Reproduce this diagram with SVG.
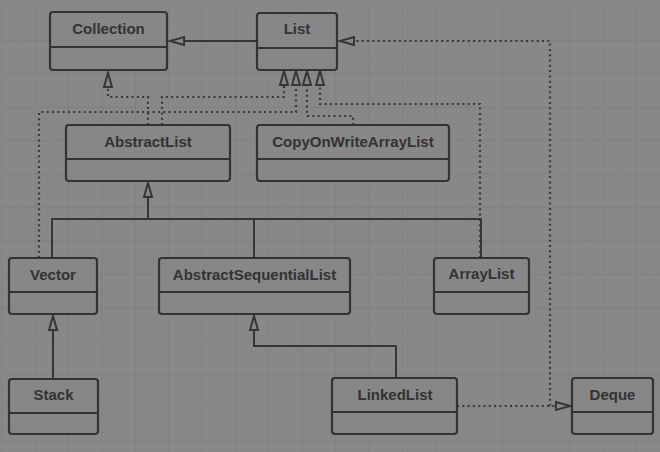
<svg xmlns="http://www.w3.org/2000/svg" width="660" height="452" viewBox="0 0 660 452">
  <defs>
    <style>
      .box { fill: #878787; stroke: #333333; stroke-width: 2.2; }
      .div { stroke: #333333; stroke-width: 2.2; fill: none; }
      .lbl { font-family: "Liberation Sans", Arial, sans-serif; font-size: 15px; font-weight: bold; fill: #333333; text-anchor: middle; }
      .solid { fill: none; stroke: #363636; stroke-width: 2; }
      .dot { fill: none; stroke: #383838; stroke-width: 2.2; stroke-dasharray: 2 3.3; }
    </style>
    <pattern id="gridMinor" width="16.7" height="16.7" patternUnits="userSpaceOnUse" x="1.2" y="6.6">
      <path d="M0,0 V16.7 M0,0 H16.7" stroke="#828282" stroke-width="1" fill="none"/>
    </pattern>
    <pattern id="gridMajor" width="33.4" height="33.4" patternUnits="userSpaceOnUse" x="1.2" y="6.6">
      <path d="M0,0 V33.4 M0,0 H33.4" stroke="#7d7d7d" stroke-width="1.2" fill="none"/>
    </pattern>
    <marker id="tri" viewBox="0 0 15 10" refX="15" refY="5" markerWidth="15" markerHeight="10" markerUnits="userSpaceOnUse" orient="auto" overflow="visible">
      <path d="M1,1 L15,5 L1,9 Z" fill="#878787" stroke="#363636" stroke-width="2" stroke-dasharray="none" stroke-linejoin="miter"/>
    </marker>
  </defs>

  <rect x="0" y="0" width="660" height="452" fill="#888888"/>
  <rect x="1" y="7" width="659" height="445" fill="url(#gridMinor)"/>
  <rect x="1" y="7" width="659" height="445" fill="url(#gridMajor)"/>

  <g id="connectors">
    <path class="solid" d="M257,41 H170" marker-end="url(#tri)"/>
    <path class="dot" d="M457,406 H570" marker-end="url(#tri)"/>
    <path class="dot" d="M550,406 V41 H340" marker-end="url(#tri)"/>
    <path class="dot" d="M148,125 V97 H108 V73" marker-end="url(#tri)"/>
    <path class="dot" d="M162,125 V97 H284 V71" marker-end="url(#tri)"/>
    <path class="dot" d="M39,258 V112 H296 V71" marker-end="url(#tri)"/>
    <path class="dot" d="M353,125 V116 H307 V71" marker-end="url(#tri)"/>
    <path class="dot" d="M480,258 V104 H320 V71" marker-end="url(#tri)"/>
    <path class="solid" d="M52,258 V219 H481 V258 M254,258 V219"/>
    <path class="solid" d="M148,219 V183" marker-end="url(#tri)"/>
    <path class="solid" d="M53,379 V316" marker-end="url(#tri)"/>
    <path class="solid" d="M396,378 V346 H254 V316" marker-end="url(#tri)"/>
  </g>

  <g id="Collection">
    <rect class="box" x="50" y="12" width="117" height="58" rx="3"/>
    <path class="div" d="M50,47 H167"/>
    <text class="lbl" x="108.5" y="34">Collection</text>
  </g>
  <g id="List">
    <rect class="box" x="257" y="13" width="80" height="57" rx="3"/>
    <path class="div" d="M257,48 H337"/>
    <text class="lbl" x="297" y="34">List</text>
  </g>
  <g id="AbstractList">
    <rect class="box" x="66" y="125" width="164" height="56" rx="3"/>
    <path class="div" d="M66,159 H230"/>
    <text class="lbl" x="148" y="147">AbstractList</text>
  </g>
  <g id="CopyOnWriteArrayList">
    <rect class="box" x="257" y="125" width="192" height="56" rx="3"/>
    <path class="div" d="M257,159 H449"/>
    <text class="lbl" x="353" y="147">CopyOnWriteArrayList</text>
  </g>
  <g id="Vector">
    <rect class="box" x="9" y="258" width="88" height="56" rx="3"/>
    <path class="div" d="M9,292 H97"/>
    <text class="lbl" x="53" y="280">Vector</text>
  </g>
  <g id="AbstractSequentialList">
    <rect class="box" x="159" y="258" width="191" height="56" rx="3"/>
    <path class="div" d="M159,292 H350"/>
    <text class="lbl" x="254.5" y="280">AbstractSequentialList</text>
  </g>
  <g id="ArrayList">
    <rect class="box" x="434" y="258" width="95" height="56" rx="3"/>
    <path class="div" d="M434,292 H529"/>
    <text class="lbl" x="481.5" y="279">ArrayList</text>
  </g>
  <g id="Stack">
    <rect class="box" x="9" y="379" width="89" height="55" rx="3"/>
    <path class="div" d="M9,413 H98"/>
    <text class="lbl" x="53.5" y="400">Stack</text>
  </g>
  <g id="LinkedList">
    <rect class="box" x="332" y="378" width="125" height="56" rx="3"/>
    <path class="div" d="M332,412 H457"/>
    <text class="lbl" x="395" y="400">LinkedList</text>
  </g>
  <g id="Deque">
    <rect class="box" x="572" y="378" width="81" height="56" rx="3"/>
    <path class="div" d="M572,412 H653"/>
    <text class="lbl" x="612.5" y="400">Deque</text>
  </g>
</svg>
